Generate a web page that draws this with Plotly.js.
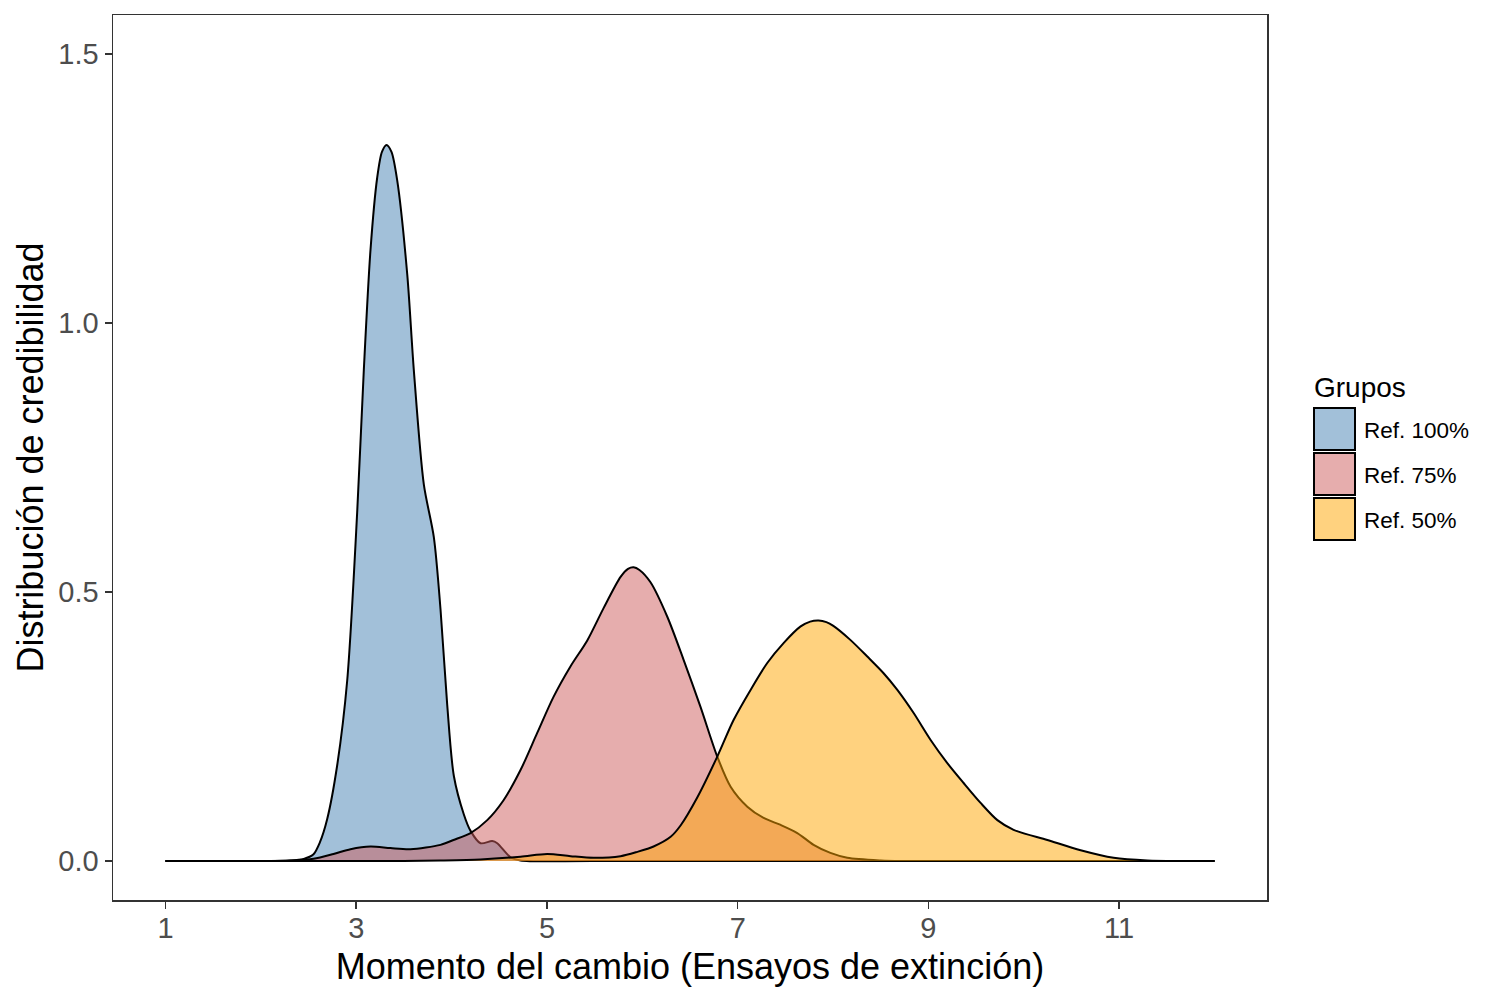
<!DOCTYPE html>
<html>
<head>
<meta charset="utf-8">
<script src="https://cdn.plot.ly/plotly-3.0.1.min.js"></script>
<style>html,body{margin:0;padding:0;background:#fff;}#chart{width:1500px;height:1000px;}</style>
</head>
<body>
<div id="chart"></div>
<script>
// ---- data ----
const groupNames = ["Ref. 100%", "Ref. 75%", "Ref. 50%"];
const groupColors = ["rgba(70,130,180,0.5)", "rgba(205,92,92,0.5)", "rgba(255,165,0,0.5)"];

const ref100_x = [1, 2.0, 2.31, 2.45, 2.55, 2.62, 2.696, 2.80, 2.906, 3.01, 3.08, 3.15, 3.22, 3.27, 3.318, 3.37, 3.43, 3.535, 3.604, 3.709, 3.814, 3.884, 3.954, 4.024, 4.128, 4.199, 4.304, 4.426, 4.479, 4.618, 4.723, 5.5, 12];
const ref100_y = [0, 0, 0.001, 0.004, 0.012, 0.035, 0.078, 0.177, 0.336, 0.647, 0.913, 1.136, 1.27, 1.318, 1.331, 1.318, 1.265, 1.091, 0.913, 0.7, 0.602, 0.468, 0.291, 0.158, 0.087, 0.056, 0.033, 0.037, 0.033, 0.007, 0.001, 0, 0];

const ref75_x = [1, 2.0, 2.31, 2.552, 2.762, 2.94, 3.15, 3.36, 3.569, 3.884, 4.02, 4.199, 4.374, 4.545, 4.723, 4.898, 5.069, 5.248, 5.423, 5.594, 5.772, 5.85, 5.908, 5.97, 6.086, 6.262, 6.433, 6.611, 6.786, 6.926, 7.101, 7.272, 7.451, 7.625, 7.796, 7.972, 8.149, 8.499, 8.71, 12];
const ref75_y = [0, 0, 0.001, 0.004, 0.013, 0.022, 0.027, 0.024, 0.022, 0.03, 0.039, 0.052, 0.076, 0.113, 0.169, 0.238, 0.305, 0.362, 0.41, 0.47, 0.528, 0.543, 0.546, 0.541, 0.518, 0.454, 0.374, 0.286, 0.194, 0.138, 0.101, 0.08, 0.067, 0.052, 0.03, 0.015, 0.006, 0.001, 0, 0];

const ref50_x = [1, 3.5, 3.884, 4.304, 4.723, 5.003, 5.248, 5.489, 5.772, 5.947, 6.118, 6.297, 6.401, 6.576, 6.786, 6.957, 7.135, 7.31, 7.481, 7.66, 7.76, 7.848, 7.93, 8.003, 8.181, 8.359, 8.53, 8.674, 8.845, 9.023, 9.198, 9.369, 9.547, 9.723, 9.893, 10.247, 10.596, 10.942, 11.296, 11.645, 12];
const ref50_y = [0, 0, 0.001, 0.003, 0.008, 0.013, 0.009, 0.006, 0.009, 0.017, 0.027, 0.045, 0.066, 0.118, 0.194, 0.262, 0.318, 0.368, 0.405, 0.436, 0.445, 0.447, 0.444, 0.437, 0.411, 0.38, 0.349, 0.318, 0.275, 0.225, 0.182, 0.145, 0.108, 0.076, 0.058, 0.039, 0.02, 0.006, 0.001, 0, 0];

const xTickVals = [1, 3, 5, 7, 9, 11];
const yTickVals = [0, 0.5, 1, 1.5];
const yTickText = ["0.0", "0.5", "1.0", "1.5"];

const xTitle = "Momento del cambio (Ensayos de extinción)";
const yTitle = "Distribución de credibilidad";
const legendTitle = "Grupos";

// ---- traces ----
const seriesX = [ref100_x, ref75_x, ref50_x];
const seriesY = [ref100_y, ref75_y, ref50_y];
const traces = seriesX.map((xs, i) => ({
  type: "scatter", mode: "lines", x: xs, y: seriesY[i], name: groupNames[i],
  fill: "tozeroy", fillcolor: groupColors[i],
  line: {color: "#000", width: 2, shape: "spline", smoothing: 0.8},
  showlegend: false, hoverinfo: "skip"
}));

// ---- layout geometry (pixels) ----
const W = 1500, H = 1000;
const M = {l: 113, r: 233, t: 15, b: 100};
const pw = W - M.l - M.r, ph = H - M.t - M.b;
const px2paperX = p => (p - M.l) / pw;
const px2paperY = p => (H - M.b - p) / ph;

// manual legend (large square keys like the reference)
const shapes = [];
const annotations = [];
annotations.push({xref: "paper", yref: "paper", x: px2paperX(1312), y: px2paperY(387), xanchor: "left", yanchor: "middle",
  text: legendTitle, showarrow: false, font: {family: "Liberation Sans, Arial, sans-serif", size: 28, color: "#000"}});
groupNames.forEach((nm, i) => {
  const top = 408 + i * 45, bot = top + 42;
  shapes.push({type: "rect", xref: "paper", yref: "paper", x0: px2paperX(1314), x1: px2paperX(1355), y0: px2paperY(bot), y1: px2paperY(top),
    fillcolor: groupColors[i], line: {color: "#000", width: 2}});
  annotations.push({xref: "paper", yref: "paper", x: px2paperX(1362), y: px2paperY((top + bot) / 2 + 1.5), xanchor: "left", yanchor: "middle",
    text: nm, showarrow: false, font: {family: "Liberation Sans, Arial, sans-serif", size: 22.5, color: "#000"}});
});

const layout = {
  width: W, height: H, margin: M, paper_bgcolor: "#fff", plot_bgcolor: "#fff",
  font: {family: "Liberation Sans, Arial, sans-serif", color: "#000"},
  showlegend: false,
  xaxis: {range: [0.45, 12.55], tickvals: xTickVals, ticktext: xTickVals.map(String), ticks: "outside", ticklen: 7, tickwidth: 1.5, tickcolor: "#333",
    showgrid: false, zeroline: false, showline: true, mirror: true, linecolor: "#333", linewidth: 1.5,
    tickfont: {size: 29, color: "#4d4d4d"}, ticklabelstandoff: -5,
    title: {text: xTitle, font: {size: 36, color: "#000"}, standoff: 10}},
  yaxis: {range: [-0.0725, 1.5725], tickvals: yTickVals, ticktext: yTickText, ticks: "outside", ticklen: 7, tickwidth: 1.5, tickcolor: "#333",
    showgrid: false, zeroline: false, showline: true, mirror: true, linecolor: "#333", linewidth: 1.5,
    tickfont: {size: 29, color: "#4d4d4d"},
    title: {text: yTitle, font: {size: 36, color: "#000"}, standoff: 4}},
  shapes: shapes, annotations: annotations
};

Plotly.newPlot("chart", traces, layout, {staticPlot: true, displayModeBar: false});
</script>
</body>
</html>
